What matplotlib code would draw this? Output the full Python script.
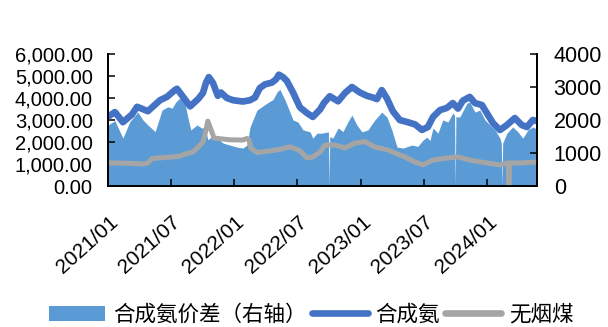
import matplotlib
matplotlib.use("Agg")
import matplotlib.pyplot as plt
import matplotlib.transforms as mtransforms
from matplotlib.patches import Patch
from matplotlib.lines import Line2D
from matplotlib.ticker import FuncFormatter
import pandas as pd

# 合成氨 price (left axis)
ammonia_dates = [
    "2021-01-01", "2021-01-21", "2021-02-13", "2021-03-11", "2021-03-26", "2021-04-26",
    "2021-05-31", "2021-06-20", "2021-07-13", "2021-07-19", "2021-08-02", "2021-08-26",
    "2021-09-18", "2021-10-02", "2021-10-11", "2021-10-19", "2021-10-31", "2021-11-14",
    "2021-11-23", "2021-12-10", "2021-12-28", "2022-01-25", "2022-02-15", "2022-03-01",
    "2022-03-15", "2022-03-30", "2022-04-19", "2022-05-01", "2022-05-09", "2022-05-21",
    "2022-06-01", "2022-06-19", "2022-07-09", "2022-07-29", "2022-08-15", "2022-09-05",
    "2022-09-16", "2022-10-03", "2022-10-27", "2022-11-16", "2022-12-06", "2022-12-29",
    "2023-01-18", "2023-02-05", "2023-02-16", "2023-03-02", "2023-03-17", "2023-04-03",
    "2023-04-23", "2023-05-16", "2023-06-06", "2023-06-26", "2023-07-13", "2023-07-28",
    "2023-08-17", "2023-09-06", "2023-09-23", "2023-10-08", "2023-10-22", "2023-11-11",
    "2023-11-26", "2023-12-16", "2023-12-30", "2024-01-17", "2024-02-06", "2024-02-26",
    "2024-03-20", "2024-04-09", "2024-04-24", "2024-05-11", "2024-05-23",
]
ammonia_price = [
    3150, 3360, 2900, 3250, 3600, 3400,
    3900, 4050, 4360, 4420, 4130, 3620,
    3950, 4230, 4700, 4950, 4680, 4100,
    4250, 4000, 3900, 3840, 3900, 4020,
    4450, 4620, 4700, 4850, 5060, 4950,
    4780, 4250, 3570, 3320, 3140, 3480,
    3770, 4080, 3850, 4230, 4500, 4250,
    4100, 4020, 3950, 4360, 3980, 3400,
    3000, 2900, 2800, 2550, 2680, 3140,
    3450, 3550, 3770, 3520, 3880, 4050,
    3770, 3680, 3320, 2860, 2545, 2770,
    3090, 2770, 2680, 3000, 2950,
]

# 无烟煤 price (left axis)
coal_dates = [
    "2021-01-01", "2021-03-05", "2021-04-12", "2021-04-26", "2021-05-08", "2021-07-05",
    "2021-07-28", "2021-08-11", "2021-09-03", "2021-09-18", "2021-10-02", "2021-10-11",
    "2021-10-16", "2021-10-22", "2021-10-28", "2021-11-03", "2021-12-19", "2022-01-25",
    "2022-02-06", "2022-02-12", "2022-02-17", "2022-03-07", "2022-05-04", "2022-06-10",
    "2022-06-25", "2022-07-09", "2022-07-29", "2022-08-15", "2022-09-05", "2022-09-19",
    "2022-10-18", "2022-11-16", "2022-12-15", "2023-01-12", "2023-02-10", "2023-03-20",
    "2023-04-09", "2023-05-08", "2023-06-06", "2023-06-29", "2023-07-28", "2023-09-06",
    "2023-10-08", "2023-11-11", "2023-12-30", "2024-02-06", "2024-03-01", "2024-03-03",
    "2024-03-05", "2024-04-03", "2024-05-23",
]
coal_price = [
    1050, 1030, 1000, 1045, 1250, 1320,
    1360, 1450, 1545, 1770, 2000, 2550,
    2950, 2700, 2450, 2180, 2100, 2090,
    2160, 2100, 1730, 1520, 1640, 1780,
    1700, 1600, 1280, 1320, 1545, 1860,
    1860, 1730, 1950, 2020, 1770, 1640,
    1500, 1320, 1090, 960, 1180, 1270,
    1320, 1180, 1045, 960, 1050, 0,
    1050, 1045, 1090,
]

# 合成氨价差 (right axis)
spread_dates = [
    "2021-01-01", "2021-01-21", "2021-02-02", "2021-02-13", "2021-03-05", "2021-03-28",
    "2021-04-12", "2021-04-26", "2021-05-17", "2021-06-06", "2021-06-23", "2021-07-05",
    "2021-07-16", "2021-07-28", "2021-08-11", "2021-08-20", "2021-08-28", "2021-09-15",
    "2021-09-29", "2021-10-08", "2021-10-16", "2021-10-28", "2021-11-11", "2021-11-29",
    "2021-12-19", "2022-01-08", "2022-01-25", "2022-02-06", "2022-02-15", "2022-02-23",
    "2022-03-07", "2022-03-15", "2022-04-05", "2022-04-22", "2022-05-04", "2022-05-12",
    "2022-05-27", "2022-06-10", "2022-06-19", "2022-07-03", "2022-07-18", "2022-08-07",
    "2022-08-15", "2022-08-27", "2022-09-10", "2022-09-29", "2022-10-01", "2022-10-03",
    "2022-10-12", "2022-10-27", "2022-11-10", "2022-11-24", "2022-12-06", "2022-12-20",
    "2023-01-04", "2023-01-21", "2023-02-10", "2023-03-02", "2023-03-17", "2023-03-31",
    "2023-04-15", "2023-05-02", "2023-05-28", "2023-06-14", "2023-06-29", "2023-07-10",
    "2023-07-19", "2023-07-28", "2023-08-11", "2023-08-25", "2023-09-09", "2023-09-23",
    "2023-09-28", "2023-09-30", "2023-10-02", "2023-10-13", "2023-11-03", "2023-11-11",
    "2023-11-26", "2023-12-10", "2023-12-25", "2024-01-08", "2024-01-23", "2024-02-06",
    "2024-02-10", "2024-02-12", "2024-02-14", "2024-02-26", "2024-03-14", "2024-03-29",
    "2024-04-12", "2024-04-27", "2024-05-11", "2024-05-23",
]
spread_value = [
    1850, 1980, 1700, 1450, 1950, 2240,
    2000, 1850, 1650, 2300, 2400, 2360,
    2550, 2670, 2500, 2050, 1700, 1850,
    1750, 1800, 1400, 1500, 1460, 1300,
    1240, 1180, 1150, 1240, 1790, 2000,
    2300, 2360, 2510, 2620, 2850, 2930,
    2600, 2240, 2000, 1940, 1700, 1640,
    1450, 1600, 1600, 1640, 0, 1500,
    1450, 1760, 1650, 1940, 2150, 1850,
    1640, 1700, 2000, 2240, 2090, 1700,
    1180, 1150, 1240, 1200, 1390, 1480,
    1380, 1760, 1600, 2000, 1940, 2210,
    2150, 0, 2100, 2090, 2510, 2545,
    2240, 2300, 2000, 1850, 1700, 1450,
    1300, 0, 1300, 1600, 1790, 1640,
    1450, 1700, 1790, 1720,
]

x_tick_dates = ["2021-01-01", "2021-07-01", "2022-01-01", "2022-07-01",
                "2023-01-01", "2023-07-01", "2024-01-01"]
x_tick_labels = ["2021/01", "2021/07", "2022/01", "2022/07",
                 "2023/01", "2023/07", "2024/01"]
left_ticks = [0, 1000, 2000, 3000, 4000, 5000, 6000]
right_ticks = [0, 1000, 2000, 3000, 4000]
x_range = ("2021-01-01", "2024-05-23")

legend_labels = ["合成氨价差（右轴）", "合成氨", "无烟煤"]

c_area = "#5B9BD5"
c_ammonia = "#4472C4"
c_coal = "#A5A5A5"

num_font = "Liberation Sans"
cjk_font = ["Noto Sans CJK SC", "DejaVu Sans"]

fig = plt.figure(figsize=(6.08, 3.27), dpi=100)
ax = fig.add_axes([108 / 608, 141 / 327, 429 / 608, 132 / 327])
ax2 = ax.twinx()
ax.set_zorder(ax2.get_zorder() + 1)
ax.patch.set_visible(False)

sd = pd.to_datetime(spread_dates)
ax2.fill_between(sd, spread_value, 0, color=c_area, linewidth=0)

ax.plot(pd.to_datetime(ammonia_dates), ammonia_price, color=c_ammonia, lw=4.8,
        solid_joinstyle="round", solid_capstyle="round")
ax.plot(pd.to_datetime(coal_dates), coal_price, color=c_coal, lw=3.6,
        solid_joinstyle="round", solid_capstyle="butt")

ax.set_xlim(pd.Timestamp(x_range[0]), pd.Timestamp(x_range[1]))
ax.set_ylim(left_ticks[0], left_ticks[-1])
ax2.set_ylim(right_ticks[0], right_ticks[-1])

ax.set_yticks(left_ticks)
ax.yaxis.set_major_formatter(FuncFormatter(lambda v, p: f"{v:,.2f}"))
ax2.set_yticks(right_ticks)
ax2.yaxis.set_major_formatter(FuncFormatter(lambda v, p: f"{int(v)}"))

ax.set_xticks(pd.to_datetime(x_tick_dates))
ax.set_xticklabels(x_tick_labels)

for a in (ax, ax2):
    for s in a.spines.values():
        s.set_linewidth(1.3)
        s.set_color("black")
    a.spines["top"].set_visible(False)

ax.tick_params(axis="y", direction="in", length=5, width=1.1, pad=11,
               labelsize=14.5, labelfontfamily=num_font)
ax2.tick_params(axis="y", direction="in", length=5, width=1.1, pad=12,
                labelsize=15.5, labelfontfamily=num_font)
ax.tick_params(axis="x", direction="in", length=5, width=1.1, pad=24,
               labelsize=15, labelfontfamily=num_font)
shift = mtransforms.ScaledTranslation(7 / 100, 0, fig.dpi_scale_trans)
for lab in ax.get_xticklabels():
    lab.set_rotation(42)
    lab.set_ha("right")
    lab.set_va("center")
    lab.set_rotation_mode("anchor")
    lab.set_transform(lab.get_transform() + shift)

handles = [
    Patch(facecolor=c_area, edgecolor="none"),
    Line2D([], [], color=c_ammonia, lw=4.8, solid_capstyle="round"),
    Line2D([], [], color=c_coal, lw=4.8, solid_capstyle="round"),
]
fig.legend(handles, legend_labels, loc="center", bbox_to_anchor=(0.512, 0.038),
           ncol=3, frameon=False,
           prop={"family": cjk_font, "size": 15.5, "weight": "light"},
           handlelength=2.6, handleheight=0.7, handletextpad=0.35,
           columnspacing=0.25, borderpad=0, borderaxespad=0)

fig.savefig("out.png", dpi=100)
